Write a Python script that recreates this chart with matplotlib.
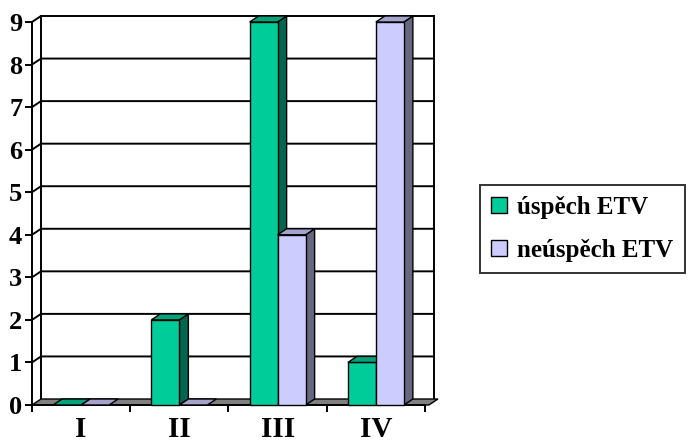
import matplotlib
matplotlib.use("Agg")
import matplotlib.pyplot as plt
from matplotlib.patches import Polygon, Patch

plt.rcParams['font.family'] = ['Liberation Serif', 'DejaVu Serif']
plt.rcParams['font.weight'] = 'bold'

categories = ["I", "II", "III", "IV"]
uspech = [0, 2, 9, 1]
neuspech = [0, 0, 4, 9]
series_names = ["úspěch ETV", "neúspěch ETV"]

# front, top, side shades for each series
green = ("#00CC99", "#00A37A", "#006650")
lilac = ("#CCCCFF", "#A3A3CC", "#666680")

W, H = 691, 443
fig = plt.figure(figsize=(W / 100, H / 100), dpi=100)

# pixel geometry of the front plane and the depth offset
front_left, front_right = 32, 425
y0_px, ytop_px = 405, 22
px_x = (front_right - front_left) / len(categories)
px_y = (y0_px - ytop_px) / 9
ddx = 9 / px_x
ddy = 6 / px_y
xmax = len(categories) + ddx
ymax = 9 + ddy

ax = fig.add_axes([front_left / W, (H - y0_px) / H, xmax * px_x / W, ymax * px_y / H])
ax.set_xlim(0, xmax)
ax.set_ylim(0, ymax)
ax.patch.set_visible(False)

lw = 1.4
for s in ("top", "right"):
    ax.spines[s].set_visible(False)
ax.spines["left"].set_bounds(0, 9)
ax.spines["bottom"].set_bounds(0, len(categories))
ax.spines["left"].set_linewidth(lw)
ax.spines["bottom"].set_linewidth(lw)

ax.set_yticks(range(10))
ax.tick_params(axis="y", length=5, width=lw, pad=2, labelsize=19)
ax.set_xticks(range(len(categories) + 1))
ax.set_xticklabels([])
ax.set_xticks([i + 0.5 for i in range(len(categories))], minor=True)
ax.set_xticklabels(categories, minor=True)
ax.tick_params(axis="x", which="major", length=5, width=lw)
ax.tick_params(axis="x", which="minor", length=0, pad=8, labelsize=21)

# back wall gridlines with their diagonal links to the front axis
for v in range(1, 10):
    ax.plot([0, ddx, xmax], [v, v + ddy, v + ddy], color="black", lw=lw,
            clip_on=False, zorder=1, solid_joinstyle="miter")
ax.plot([ddx, ddx], [ddy, 9 + ddy], color="black", lw=lw, clip_on=False, zorder=1)
ax.plot([xmax, xmax], [ddy, 9 + ddy], color="black", lw=lw, clip_on=False, zorder=1)

# floor
n = len(categories)
ax.add_patch(Polygon([(0, 0), (n + 0.04, 0), (xmax + 0.04, ddy), (ddx, ddy)], closed=True,
                     facecolor="#808080", edgecolor="black", lw=1.0, zorder=2,
                     clip_on=False))

bar_w = 0.285
gap = (1 - 2 * bar_w) / 2


def draw_bar(x0, v, shades, z):
    front, top, side = shades
    ec = dict(edgecolor="black", lw=1.0, clip_on=False, zorder=z)
    if v > 0:
        ax.add_patch(Polygon([(x0 + bar_w, 0), (x0 + bar_w + ddx, ddy),
                              (x0 + bar_w + ddx, v + ddy), (x0 + bar_w, v)],
                             closed=True, facecolor=side, **ec))
        ax.add_patch(Polygon([(x0, 0), (x0 + bar_w, 0), (x0 + bar_w, v), (x0, v)],
                             closed=True, facecolor=front, **ec))
    ax.add_patch(Polygon([(x0, v), (x0 + bar_w, v), (x0 + bar_w + ddx, v + ddy),
                          (x0 + ddx, v + ddy)], closed=True, facecolor=top, **ec))


z = 3
for i in range(n):
    draw_bar(i + gap, uspech[i], green, z)
    draw_bar(i + gap + bar_w, neuspech[i], lilac, z + 1)
    z += 2

handles = [Patch(facecolor=green[0], edgecolor="black", lw=1.0),
           Patch(facecolor=lilac[0], edgecolor="black", lw=1.0)]
leg = fig.legend(handles, series_names, loc="center left",
                 bbox_to_anchor=(480 / W, 1 - 229 / H), frameon=True,
                 fancybox=False, edgecolor="black", fontsize=18,
                 handlelength=0.64, handleheight=0.64, handletextpad=0.4,
                 labelspacing=0.8, borderpad=0.45, borderaxespad=0)
leg.get_frame().set_linewidth(1.4)

fig.savefig("out.png", dpi=100)
